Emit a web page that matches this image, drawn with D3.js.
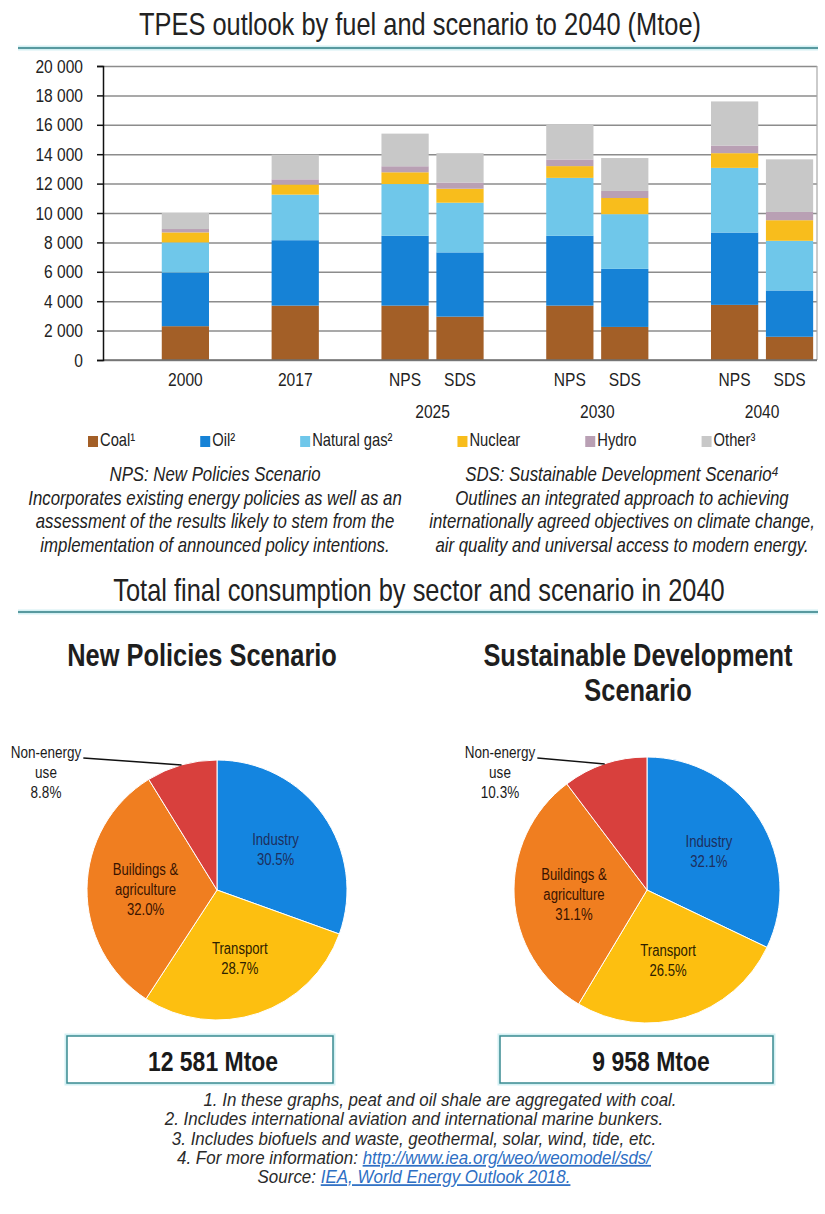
<!DOCTYPE html>
<html>
<head>
<meta charset="utf-8">
<script src="https://cdn.jsdelivr.net/npm/d3@7"></script>
<style>
  body { margin: 0; background: #fff; }
  svg { display: block; }
</style>
</head>
<body>
<div id="chart"></div>
<script>
// ---- TPES bars (Mtoe) ----
const barYears     = ["2000", "2017", "2025", "2025", "2030", "2030", "2040", "2040"];
const barScenarios = ["", "", "NPS", "SDS", "NPS", "SDS", "NPS", "SDS"];
const coal    = [2300, 3700, 3700, 2950, 3700, 2250, 3750, 1580];
const oil     = [3650, 4450, 4750, 4370, 4750, 3950, 4920, 3150];
const gas     = [2050, 3100, 3520, 3380, 3940, 3720, 4400, 3380];
const nuclear = [ 680,  690,  800,  950,  800, 1100, 1000, 1400];
const hydro   = [ 230,  350,  410,  420,  450,  480,  520,  560];
const other   = [1090, 1680, 2220, 2000, 2360, 2240, 3000, 3580];
const fuelNames  = ["Coal¹", "Oil²", "Natural gas²", "Nuclear", "Hydro", "Other³"];
const fuelColors = ["#a35f27", "#1682d6", "#6fc7ea", "#f8bd1c", "#b9a0b4", "#c8c8c8"];
const yTicks = [0, 2000, 4000, 6000, 8000, 10000, 12000, 14000, 16000, 18000, 20000];

// ---- final consumption pies (%) ----
const sectorLines  = [["Industry"], ["Transport"], ["Buildings &", "agriculture"], ["Non-energy", "use"]];
const sectorColors = ["#1485e0", "#fdbf10", "#f07e20", "#d8403d"];
const npsShare = [30.5, 28.7, 32.0, 8.8];
const sdsShare = [32.1, 26.5, 31.1, 10.3];
const npsTotal = 12581;
const sdsTotal = 9958;

const npsNote = ["NPS: New Policies Scenario",
  "Incorporates existing energy policies as well as an",
  "assessment of the results likely to stem from the",
  "implementation of announced policy intentions."];
const sdsNote = ["SDS: Sustainable Development Scenario⁴",
  "Outlines an integrated approach to achieving",
  "internationally agreed objectives on climate change,",
  "air quality and universal access to modern energy."];
const footnotes = [
  ["1. In these graphs, peat and oil shale are aggregated with coal.", ""],
  ["2. Includes international aviation and international marine bunkers.", ""],
  ["3. Includes biofuels and waste, geothermal, solar, wind, tide, etc.", ""],
  ["4. For more information: ", "http://www.iea.org/weo/weomodel/sds/"],
  ["Source: ", "IEA, World Energy Outlook 2018."]
];

const W = 825, H = 1214;
const FONT = "'Liberation Sans', Arial, sans-serif";
const SX = 0.82; // narrow look of the original

var svg = d3.select("#chart").append("svg").attr("width", W).attr("height", H);
svg.append("rect").attr("width", W).attr("height", H).attr("fill", "#fff");

function txt(parent, x, y, str, o) {
  o = o || {};
  var g = parent.append("g").attr("transform", "translate(" + x + "," + y + ") scale(" + (o.sx || SX) + ",1)");
  return g.append("text")
      .attr("text-anchor", o.anchor || "middle")
      .attr("font-family", FONT)
      .attr("font-size", o.size || 18)
      .attr("font-weight", o.weight || "normal")
      .attr("font-style", o.style || "normal")
      .attr("fill", o.fill || "#222")
      .text(str);
}

function rule(y) {
  svg.append("line").attr("x1", 18).attr("x2", 818).attr("y1", y).attr("y2", y)
      .attr("stroke", "#d3f0f3").attr("stroke-width", 5);
  svg.append("line").attr("x1", 18).attr("x2", 818).attr("y1", y).attr("y2", y)
      .attr("stroke", "#2f7c83").attr("stroke-width", 1.5);
}

// ---------- top chart ----------
txt(svg, 420, 35, "TPES outlook by fuel and scenario to 2040 (Mtoe)", {size: 31});
rule(48);

var L = 103, R = 817, T = 66, B = 360;

var slots = [];
barYears.forEach(function(yr, i) {
  if (i === 0 || yr !== barYears[i - 1]) slots.push("gap" + i);
  slots.push("bar" + i);
});

var x = d3.scaleBand().domain(slots).range([L, R]).paddingInner(0.14).paddingOuter(0.07);
var y = d3.scaleLinear().domain([0, 20000]).range([B, T]);

svg.append("g")
    .attr("transform", "translate(" + L + ",0)")
    .call(d3.axisLeft(y).tickValues(yTicks).tickSize(-(R - L)).tickFormat(""))
    .call(function(g) { g.select(".domain").remove(); })
    .selectAll("line").attr("stroke", "#8c8c8c").attr("stroke-width", 1.5);

svg.append("line").attr("x1", R).attr("x2", R).attr("y1", T).attr("y2", B)
    .attr("stroke", "#a8a8a8").attr("stroke-width", 1.2);

var series = [coal, oil, gas, nuclear, hydro, other];
var stacked = d3.stack()
    .keys(d3.range(series.length))
    .value(function(d, k) { return series[k][d]; })(d3.range(barYears.length));

svg.append("g").selectAll("g")
    .data(stacked)
  .enter().append("g")
    .attr("fill", function(d, k) { return fuelColors[k]; })
  .selectAll("rect")
    .data(function(d) { return d; })
  .enter().append("rect")
    .attr("x", function(d) { return x("bar" + d.data); })
    .attr("width", x.bandwidth())
    .attr("y", function(d) { return y(d[1]); })
    .attr("height", function(d) { return y(d[0]) - y(d[1]); });

svg.append("line").attr("x1", L).attr("x2", R).attr("y1", B).attr("y2", B)
    .attr("stroke", "#6f6f6f").attr("stroke-width", 1.5);

var yAxis = svg.append("g")
    .attr("transform", "translate(" + L + ",0)")
    .call(d3.axisLeft(y).tickValues(yTicks).tickSize(6)
      .tickFormat(function(d) { return d3.format(",")(d).replace(/,/g, " "); }));
yAxis.select(".domain").attr("stroke", "#111").attr("stroke-width", 1.5);
yAxis.selectAll(".tick line").attr("stroke", "#111").attr("stroke-width", 1.5);
yAxis.selectAll(".tick text")
    .attr("font-family", FONT).attr("font-size", 19).attr("fill", "#222")
    .attr("transform", "scale(" + SX + ",1)")
    .attr("x", -20 / SX);

// x labels
barYears.forEach(function(yr, i) {
  var cx = x("bar" + i) + x.bandwidth() / 2;
  if (barScenarios[i] === "") {
    txt(svg, cx, 386, yr, {size: 19});
  } else {
    txt(svg, cx, 386, barScenarios[i], {size: 19});
    if (yr === barYears[i + 1]) {
      var cx2 = x("bar" + (i + 1)) + x.bandwidth() / 2;
      txt(svg, (cx + cx2) / 2, 418, yr, {size: 19});
    }
  }
});

// legend
var lx = 88;
fuelNames.forEach(function(name, k) {
  svg.append("rect").attr("x", lx).attr("y", 436).attr("width", 10).attr("height", 11)
      .attr("fill", fuelColors[k]);
  var t = txt(svg, lx + 12, 446, name, {size: 18, anchor: "start"});
  lx += 12 + t.node().getComputedTextLength() * SX + 65;
});

// scenario notes
[[npsNote, 215], [sdsNote, 622]].forEach(function(p) {
  p[0].forEach(function(line, j) {
    txt(svg, p[1], 481 + j * 23.5, line, {size: 20.5, style: "italic"});
  });
});

// ---------- pies ----------
txt(svg, 419, 601, "Total final consumption by sector and scenario in 2040", {size: 31});
rule(612);

var panels = [
  {shares: npsShare, total: npsTotal, title: ["New Policies Scenario"], cx: 217, cy: 890, r: 130,
   titleX: 202, labelX: 46, box: [67, 333], totalX: 213},
  {shares: sdsShare, total: sdsTotal, title: ["Sustainable Development", "Scenario"], cx: 647, cy: 890, r: 133,
   titleX: 638, labelX: 500, box: [500, 773], totalX: 651}
];

var pie = d3.pie().sort(null).value(function(d) { return d; });
var labelColors = ["#1d2f5e", "#2e2100", "#3a1400"];

panels.forEach(function(p) {
  p.title.forEach(function(line, j) {
    txt(svg, p.titleX, 666 + j * 35, line, {size: 31, weight: "bold", fill: "#1e1e1e"});
  });

  var arcs = pie(p.shares);
  var arc = d3.arc().innerRadius(0).outerRadius(p.r);
  var labelArc = d3.arc().innerRadius(p.r * 0.55).outerRadius(p.r * 0.55);
  var g = svg.append("g").attr("transform", "translate(" + p.cx + "," + p.cy + ")");

  g.selectAll("path")
      .data(arcs)
    .enter().append("path")
      .attr("d", arc)
      .attr("fill", function(d, i) { return sectorColors[i]; })
      .attr("stroke", "#fff")
      .attr("stroke-width", 1);

  arcs.forEach(function(a, i) {
    var lines = sectorLines[i].concat([a.data.toFixed(1) + "%"]);
    if (i < 3) {
      var c = labelArc.centroid(a);
      lines.forEach(function(line, j) {
        txt(g, c[0], c[1] + 6 + (j - (lines.length - 1) / 2) * 20, line, {size: 16, fill: labelColors[i]});
      });
    } else {
      var first = null;
      lines.forEach(function(line, j) {
        var t = txt(svg, p.labelX, p.cy - 132 + j * 20, line, {size: 16.5, fill: "#1a1a1a"});
        if (j === 0) first = t;
      });
      var half = first.node().getComputedTextLength() * SX / 2;
      var mid = (a.startAngle + a.endAngle) / 2;
      svg.append("line")
          .attr("x1", p.labelX + half + 2).attr("y1", p.cy - 132)
          .attr("x2", p.cx + Math.sin(mid) * p.r).attr("y2", p.cy - Math.cos(mid) * p.r)
          .attr("stroke", "#111").attr("stroke-width", 1.5);
    }
  });

  svg.append("rect").attr("x", p.box[0]).attr("y", 1036)
      .attr("width", p.box[1] - p.box[0]).attr("height", 47)
      .attr("fill", "none").attr("stroke", "#d3f0f3").attr("stroke-width", 5);
  svg.append("rect").attr("x", p.box[0]).attr("y", 1036)
      .attr("width", p.box[1] - p.box[0]).attr("height", 47)
      .attr("fill", "#fff").attr("stroke", "#3a8a91").attr("stroke-width", 1.5);
  txt(svg, p.totalX, 1071, d3.format(",")(p.total).replace(/,/g, " ") + " Mtoe",
      {size: 28, weight: "bold", fill: "#1a1a1a"});
});

// footnotes
footnotes.forEach(function(f, j) {
  var t = txt(svg, j === 0 ? 440 : 414, 1106 + j * 19.3, "",
      {size: 17.5, sx: 0.97, style: "italic", fill: "#2a2a2a"});
  t.append("tspan").text(f[0]);
  if (f[1]) t.append("tspan").attr("fill", "#2e6fc4").attr("text-decoration", "underline").text(f[1]);
});
</script>
</body>
</html>
